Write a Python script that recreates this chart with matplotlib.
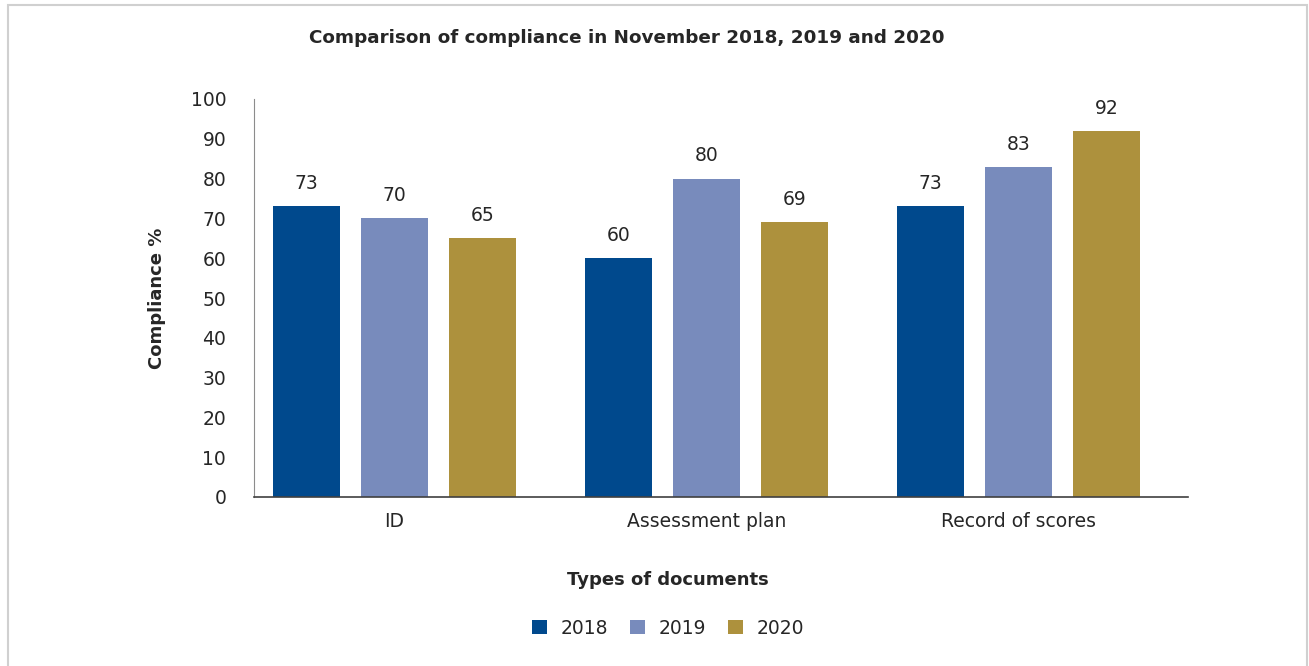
import numpy as np
import matplotlib.pyplot as plt
from matplotlib.patches import Rectangle

categories = ["ID", "Assessment plan", "Record of scores"]
years = ["2018", "2019", "2020"]
v2018 = [73, 60, 73]
v2019 = [70, 80, 83]
v2020 = [65, 69, 92]
colors = ["#00498D", "#788BBC", "#AD913D"]

txt = "#262626"
plt.rcParams['font.family'] = ['DejaVu Sans']

fig = plt.figure(figsize=(13.09, 6.66), dpi=100)
ax = fig.add_axes([254/1309, 1 - 497/666, (1188-254)/1309, (497-99)/666])

# outer frame of the chart area
fig.patches.append(Rectangle((8/1309, -0.02), (1307-8)/1309, 1 - 5/666 + 0.02,
                             transform=fig.transFigure, fill=False,
                             edgecolor="#d0d0d0", linewidth=1.5))

x = np.arange(len(categories))
w = 0.215
step = 0.282
for i, (vals, yr) in enumerate(zip([v2018, v2019, v2020], years)):
    pos = x + (i - 1) * step
    bars = ax.bar(pos, vals, width=w, color=colors[i], label=yr)
    for b, v in zip(bars, vals):
        ax.text(b.get_x() + b.get_width()/2, v + 3.3, str(v), ha="center",
                va="bottom", fontsize=13.5, color=txt)

ax.set_xlim(-0.450, 2.543)
ax.set_ylim(0, 100)
ax.set_yticks(range(0, 101, 10))
ax.set_xticks(x)
ax.set_xticklabels(categories)
ax.tick_params(axis="both", length=0, labelsize=13.5, labelcolor=txt)
ax.tick_params(axis="y", pad=20)
ax.tick_params(axis="x", pad=11)
for s in ["top", "right"]:
    ax.spines[s].set_visible(False)
ax.spines["left"].set_color("#8c8c8c")
ax.spines["bottom"].set_color("#404040")
ax.spines["bottom"].set_linewidth(1.2)

ax.set_ylabel("Compliance %", fontsize=13, fontweight="bold", color=txt, labelpad=18)
fig.text(668/1309, 1 - 580/666, "Types of documents", ha="center", va="center",
         fontsize=13, fontweight="bold", color=txt)
fig.text(627/1309, 1 - 38/666, "Comparison of compliance in November 2018, 2019 and 2020",
         ha="center", va="center", fontsize=13.2, fontweight="bold", color=txt)

fig.legend(loc="center", bbox_to_anchor=(668/1309, 1 - 628/666), ncol=3,
           frameon=False, fontsize=13.5, handlelength=0.8, handleheight=0.8,
           columnspacing=1.2, handletextpad=0.7, labelcolor=txt)

fig.savefig("out.png", dpi=100, facecolor="white")
